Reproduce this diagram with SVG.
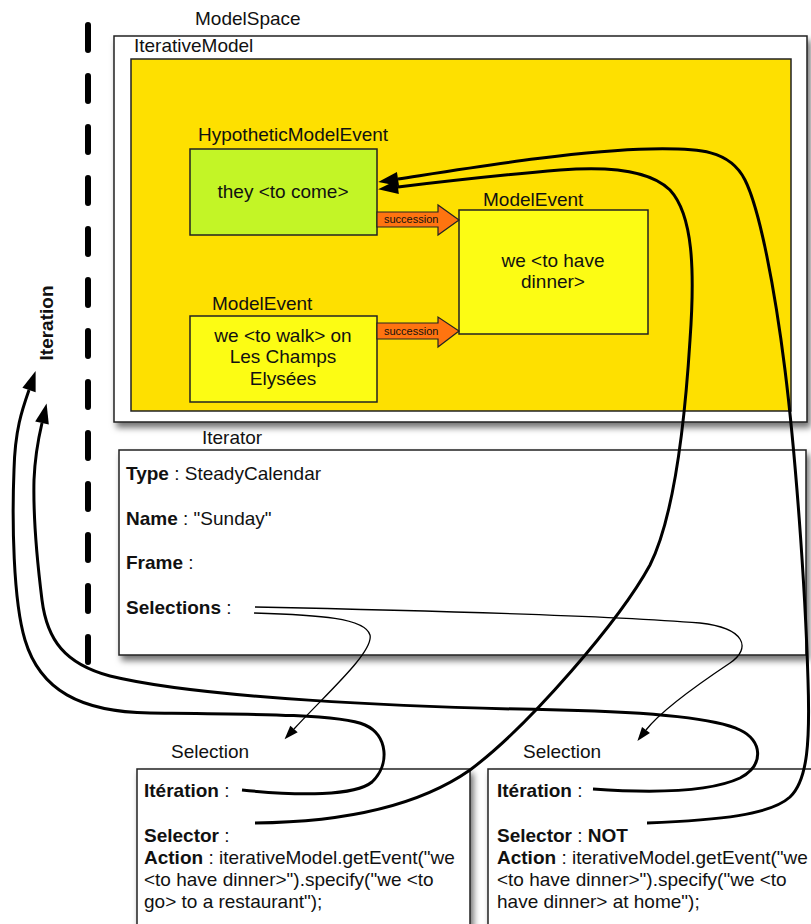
<svg xmlns="http://www.w3.org/2000/svg" width="811" height="924" viewBox="0 0 811 924">
<defs>
<style>
text{font-family:"Liberation Sans",Arial,Helvetica,sans-serif;font-size:19px;fill:#111}
.b{font-weight:bold}
.sm{font-size:11px}
.box{stroke:#222;stroke-width:1.5}
.thick{fill:none;stroke:#000;stroke-width:3}
.thin{fill:none;stroke:#000;stroke-width:1.3}
.dash{fill:none;stroke:#000;stroke-width:6;stroke-linecap:round;stroke-dasharray:25 26}
.succ{fill:#FF7410;stroke:#222;stroke-width:1.2}
</style>
<filter id="sh" x="-5%" y="-5%" width="115%" height="120%">
<feDropShadow dx="3" dy="5" stdDeviation="3" flood-color="#000" flood-opacity="0.55"/>
</filter>
<marker id="ah" markerUnits="userSpaceOnUse" markerWidth="22" markerHeight="16" refX="0" refY="7" orient="auto" overflow="visible">
<path d="M0,0 L20,7 L0,14 z" fill="#000"/>
</marker>
<marker id="ahs" markerUnits="userSpaceOnUse" markerWidth="16" markerHeight="12" refX="0" refY="5" orient="auto" overflow="visible">
<path d="M0,0 L14,5 L0,10 z" fill="#000"/>
</marker>
</defs>
<rect width="811" height="924" fill="#fff"/>

<g id="iteration-axis">
<path class="dash" d="M88,25 L88,662"/>
<text class="b" transform="translate(53,323) rotate(-90)" text-anchor="middle" font-size="18.5">Iteration</text>
</g>

<text x="195" y="25">ModelSpace</text>

<g id="iterativeModel">
<rect class="box" x="114" y="36" width="693" height="386" fill="#fff" filter="url(#sh)"/>
<text x="134" y="52">IterativeModel</text>
<rect class="box" x="131" y="59" width="660" height="352" fill="#FEE000"/>
</g>

<g id="hypotheticModelEvent">
<text x="198" y="141">HypotheticModelEvent</text>
<rect class="box" x="190" y="149" width="187" height="86" fill="#C3F526"/>
<text x="283" y="198" text-anchor="middle">they &lt;to come&gt;</text>
</g>

<g id="modelEventWalk">
<text x="212" y="310">ModelEvent</text>
<rect class="box" x="190" y="316" width="187" height="86" fill="#FCFC14"/>
<text x="283" y="342" text-anchor="middle">we &lt;to walk&gt; on</text>
<text x="283" y="363" text-anchor="middle">Les Champs</text>
<text x="283" y="385" text-anchor="middle">Elysées</text>
</g>

<g id="modelEventDinner">
<text x="483" y="206">ModelEvent</text>
<rect class="box" x="459" y="210" width="189" height="124" fill="#FCFC14"/>
<text x="553" y="267" text-anchor="middle">we &lt;to have</text>
<text x="553" y="288" text-anchor="middle">dinner&gt;</text>
</g>

<g id="iterator">
<text x="202" y="444">Iterator</text>
<rect class="box" x="119" y="450" width="687" height="205" fill="#fff" filter="url(#sh)"/>
<text x="126" y="480"><tspan class="b">Type</tspan> : SteadyCalendar</text>
<text x="126" y="525"><tspan class="b">Name</tspan> : "Sunday"</text>
<text x="126" y="569"><tspan class="b">Frame</tspan> :</text>
<text x="126" y="614"><tspan class="b">Selections</tspan> :</text>
</g>

<g id="selection1">
<text x="171" y="758">Selection</text>
<rect class="box" x="137" y="769" width="333" height="170" fill="#fff" filter="url(#sh)"/>
<text x="144" y="797"><tspan class="b">Itération</tspan> :</text>
<text x="144" y="842"><tspan class="b">Selector</tspan> :</text>
<text x="144" y="864"><tspan class="b">Action</tspan> : iterativeModel.getEvent("we</text>
<text x="144" y="886">&lt;to have dinner&gt;").specify("we &lt;to</text>
<text x="144" y="908">go&gt; to a restaurant");</text>
</g>

<g id="selection2">
<text x="523" y="758">Selection</text>
<rect class="box" x="488" y="769" width="340" height="170" fill="#fff" filter="url(#sh)"/>
<text x="497" y="797"><tspan class="b">Itération</tspan> :</text>
<text x="497" y="842"><tspan class="b">Selector</tspan> : <tspan class="b">NOT</tspan></text>
<text x="497" y="864"><tspan class="b">Action</tspan> : iterativeModel.getEvent("we</text>
<text x="497" y="886">&lt;to have dinner&gt;").specify("we &lt;to</text>
<text x="497" y="908">have dinner&gt; at home");</text>
</g>

<g id="connectors">
<g id="succession1">
<path class="succ" d="M377,212 L438,212 L438,205 L459,220 L438,235 L438,227 L377,227 z"/>
<text class="sm" x="384" y="223">succession</text>
</g>
<g id="succession2">
<path class="succ" d="M377,323 L438,323 L438,317 L459,331 L438,347 L438,339 L377,339 z"/>
<text class="sm" x="384" y="335">succession</text>
</g>
<path class="thick" marker-end="url(#ah)" d="M647,823 C720,820 770,815 790,797 C808,780 810,740 808,680 C805,580 795,450 785,370 C775,290 760,210 745,180 C730,150 700,148 650,149 C580,150 470,168 398,179"/>
<path class="thick" marker-end="url(#ah)" d="M255,823 C350,822 420,805 470,770 C530,725 620,620 650,565 C675,515 685,420 690,340 C695,270 693,215 670,190 C650,170 610,166 560,170 C500,175 440,182 398,187"/>
<path class="thick" marker-end="url(#ah)" d="M242,790 C300,796 355,796 372,782 C390,765 388,735 365,725 C340,714 250,714 150,713 C80,712 40,690 25,640 C13,600 12,520 14,470 C15,430 22,410 29,390"/>
<path class="thick" marker-end="url(#ah)" d="M593,789 C650,793 710,792 740,778 C765,765 762,740 740,730 C715,718 650,712 560,710 C400,707 200,698 110,676 C65,664 47,640 42,600 C37,560 33,520 34,480 C35,455 38,440 42,423"/>
<path class="thin" marker-end="url(#ahs)" d="M255,607 C400,610 600,615 700,623 C745,628 752,648 730,663 C700,683 660,712 646,730"/>
<path class="thin" marker-end="url(#ahs)" d="M254,613 C320,615 365,618 370,635 C374,652 325,695 294,729"/>
</g>
</svg>
